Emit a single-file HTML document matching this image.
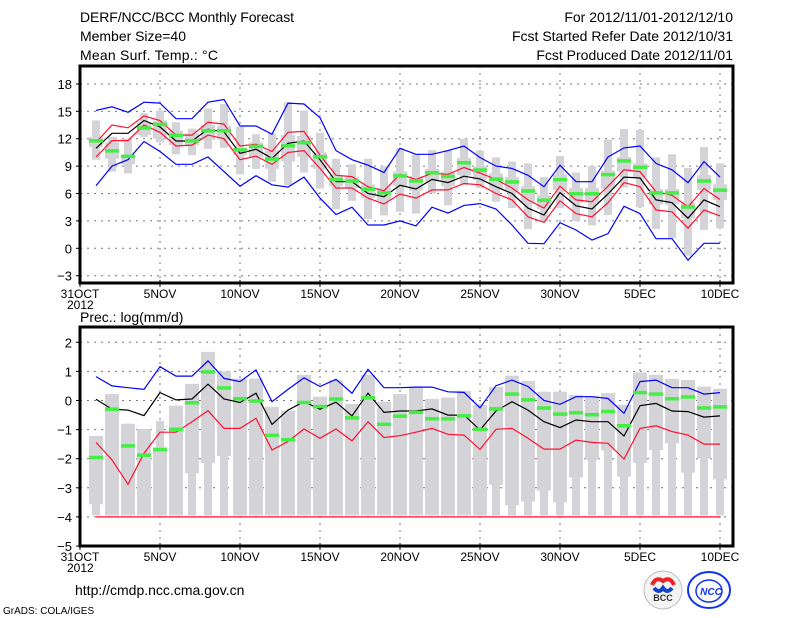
<!DOCTYPE html>
<html><head><meta charset="utf-8">
<style>
html,body{margin:0;padding:0;background:#fff;}
svg{display:block;font-family:"Liberation Sans",sans-serif;}
</style></head>
<body>
<svg id="chart" width="800" height="618" viewBox="0 0 800 618">
<g id="hdr" font-size="14" fill="#000">
<text x="80" y="22" textLength="214">DERF/NCC/BCC Monthly Forecast</text>
<text x="80" y="41" textLength="106">Member Size=40</text>
<text x="80" y="60" textLength="138">Mean Surf. Temp.: °C</text>
<text x="733" y="22" text-anchor="end">For 2012/11/01-2012/12/10</text>
<text x="733" y="41" text-anchor="end">Fcst Started Refer Date 2012/10/31</text>
<text x="733" y="60" text-anchor="end">Fcst Produced Date 2012/11/01</text>
<text x="80" y="322">Prec.: log(mm/d)</text>
<text x="75" y="595">http://cmdp.ncc.cma.gov.cn</text>
<text x="3" y="614" font-size="10">GrADS: COLA/IGES</text>
</g>
<g>
<circle cx="663" cy="590" r="19" fill="#f4f4f4" stroke="#bbb"/>
<path d="M652 585 q4 -9 11 -4 q7 -5 11 4" stroke="#e22" stroke-width="4" fill="none"/>
<path d="M654 588 q5 6 9 0 q4 6 9 0" stroke="#1144cc" stroke-width="4" fill="none"/>
<text x="663" y="601" font-size="9" font-weight="bold" text-anchor="middle" fill="#333">BCC</text>
</g>
<g>
<ellipse cx="709" cy="590" rx="21" ry="18" fill="#fff" stroke="#1133ee" stroke-width="2"/>
<ellipse cx="709" cy="591" rx="13" ry="11" fill="none" stroke="#1133ee" stroke-width="1.5"/>
<text x="711" y="595" font-size="10" font-weight="bold" font-style="italic" text-anchor="middle" fill="#1133ee">NCC</text>
</g>
<g id="p1"></g>
<g id="p2"></g>
</svg>
<script>
// ---- Temperature panel data (days 1..40 = Nov1..Dec10) ----
const tMax=[14.0,12.2,12.0,14.8,15.1,13.8,13.1,15.3,15.8,13.3,12.5,12.6,16.0,15.1,12.65,9.8,9.2,9.8,9.0,11.0,10.3,10.75,10.75,12.0,10.7,9.95,9.5,9.3,7.8,10.1,8.3,9.0,11.9,13.05,12.95,9.95,10.3,8.8,11.1,9.3];
const tQ3=[12.2,11.6,10.2,13.8,14.0,12.9,12.6,13.5,13.4,11.0,11.6,10.7,12.4,12.3,10.5,8.0,7.8,7.0,6.6,8.4,7.9,8.7,8.4,9.9,9.0,8.2,7.8,6.8,5.8,8.1,6.6,6.6,8.5,10.0,9.3,6.5,6.5,5.0,8.0,7.0];
const tQ1=[11.1,9.8,9.2,12.4,12.0,11.3,11.3,12.0,11.9,10.2,10.0,8.7,9.5,10.0,8.7,6.8,6.6,5.5,5.2,6.8,6.3,7.3,6.8,8.0,7.5,6.5,6.2,5.0,4.3,6.4,5.0,5.0,6.5,8.4,7.8,4.8,4.8,3.3,6.4,5.3];
const tMin=[9.7,8.4,8.2,12.2,11.6,10.3,10.2,10.9,11.0,8.1,8.7,7.3,6.9,8.3,6.55,4.3,5.2,3.2,3.6,4.0,3.8,6.0,4.7,6.9,6.6,5.1,4.4,2.1,2.9,4.4,3.0,2.5,3.65,6.65,4.5,2.1,1.1,-0.8,2.0,2.2];
const tGreen=[11.8,10.7,10.1,13.2,13.6,12.4,11.8,12.9,12.9,10.8,11.2,9.8,11.25,11.6,10.05,7.55,7.4,6.5,6.1,7.95,7.4,8.3,7.9,9.4,8.6,7.6,7.3,6.3,5.3,7.55,6.0,6.0,8.1,9.6,8.9,6.1,6.1,4.55,7.4,6.4];
const tMean=[10.95,12.6,12.6,14.0,13.3,11.75,11.75,13.05,12.75,10.4,10.85,9.85,11.5,11.75,9.7,7.3,7.3,6.0,5.65,6.9,6.5,7.55,7.2,7.9,7.6,6.75,6.0,4.4,3.65,6.1,4.65,4.3,5.95,7.8,7.7,5.3,5.0,3.3,5.3,4.55];
const tRedHi=[11.6,13.5,13.2,14.5,14.0,12.4,12.4,13.8,13.6,11.2,11.4,10.6,12.7,12.8,10.2,8.0,7.85,6.75,6.3,8.1,7.55,8.2,8.1,8.85,8.25,7.55,6.6,5.3,4.4,6.8,5.3,5.1,6.8,8.6,8.4,6.2,5.8,4.55,6.55,5.35];
const tRedLo=[10.0,11.8,11.8,13.5,12.7,11.2,11.3,12.4,12.0,9.7,10.1,9.2,10.5,10.7,8.75,6.6,6.6,5.5,4.85,5.95,5.5,6.4,6.4,7.1,6.95,6.0,5.3,3.45,2.85,5.2,3.8,3.45,5.0,7.2,6.75,4.2,4.0,2.2,4.2,3.55];
const tBlueHi=[15.1,15.5,14.9,16.0,15.9,14.2,14.2,16.0,16.3,13.4,13.4,12.5,15.9,15.8,14.3,10.7,9.7,9.1,8.3,10.95,10.3,10.3,10.7,11.2,9.95,9.0,8.75,8.0,6.75,9.1,7.3,7.3,10.0,11.0,11.2,9.3,8.6,7.2,9.5,7.8];
const tBlueLo=[6.85,9.0,9.7,11.7,10.6,9.2,9.2,10.0,8.4,6.8,7.95,6.95,6.7,7.8,5.5,3.7,4.5,2.55,2.55,3.0,2.45,4.5,3.85,4.7,4.9,4.3,2.55,0.55,0.5,2.8,2.0,0.9,1.6,4.6,3.8,1.05,1.05,-1.3,0.55,0.55];
const tTicks=[-3,0,3,6,9,12,15,18];
// ---- Precipitation panel data ----
const pMax=[-1.22,0.22,-0.8,-0.98,-0.7,-0.18,0.57,1.67,1.0,0.75,0.75,-0.22,-0.35,0.88,0.13,0.7,-0.12,0.88,-0.04,0.22,0.45,0.05,0.1,0.33,-0.15,0.46,0.85,0.67,0.3,0.3,0.19,0.15,0.25,-0.15,0.96,0.88,0.74,0.7,0.48,0.4];
const pQ3=[-1.22,0.22,-0.8,-0.98,-1.6,-0.18,0.57,1.67,1.0,0.75,0.75,-0.22,-0.35,0.88,0.13,0.7,-0.12,0.88,-0.04,0.22,0.45,0.05,0.1,0.33,-0.15,0.46,0.85,0.67,0.3,0.3,0.19,0.15,0.25,-0.15,0.96,0.88,0.74,0.7,0.48,0.4];
const pQ1=[-3.57,-3.95,-3.95,-3.95,-3.95,-3.95,-2.5,-2.15,-1.9,-3.95,-3.95,-3.95,-3.95,-3.95,-3.95,-3.95,-3.95,-3.95,-3.95,-3.95,-3.95,-3.95,-3.95,-3.95,-3.95,-2.9,-3.6,-3.47,-3.1,-3.5,-2.65,-2.04,-1.72,-2.62,-2.14,-1.7,-1.47,-2.48,-2.0,-2.71];
const pMin=[-3.95,-3.95,-3.95,-3.95,-3.95,-3.95,-3.95,-3.95,-3.95,-3.95,-3.95,-3.95,-3.95,-3.95,-3.95,-3.95,-3.95,-3.95,-3.95,-3.95,-3.95,-3.95,-3.95,-3.95,-3.95,-3.95,-3.95,-3.95,-3.95,-3.95,-3.95,-3.95,-3.95,-3.95,-3.95,-3.95,-3.95,-3.95,-3.95,-3.95];
const pGreen=[-1.95,-0.29,-1.55,-1.87,-1.68,-0.98,-0.07,0.99,0.44,0.07,-0.01,-1.19,-1.34,-0.06,-0.2,0.06,-0.59,0.1,-0.81,-0.53,-0.4,-0.62,-0.62,-0.52,-0.98,-0.28,0.23,0.03,-0.25,-0.46,-0.41,-0.48,-0.37,-0.86,0.28,0.23,0.07,0.13,-0.25,-0.21];
const pMean=[0.04,-0.3,-0.33,-0.52,0.27,0.02,0.05,0.56,0.05,-0.07,0.25,-0.82,-0.33,-0.04,-0.3,-0.06,-0.53,0.25,-0.41,-0.36,-0.36,-0.29,-0.5,-0.5,-1.01,-0.36,-0.04,-0.33,-0.73,-0.93,-0.67,-0.73,-0.73,-1.22,-0.18,-0.1,-0.36,-0.38,-0.57,-0.53];
const pRedHi=[-1.44,-2.04,-2.88,-1.81,-1.09,-1.09,-0.73,-0.35,-0.96,-0.96,-0.61,-1.7,-1.41,-0.98,-1.3,-0.98,-1.39,-0.73,-1.27,-1.21,-1.09,-0.96,-1.16,-1.19,-1.68,-0.99,-0.96,-1.3,-1.67,-1.67,-1.36,-1.44,-1.47,-2.01,-0.96,-0.87,-1.07,-1.19,-1.5,-1.5];
const pRedLo=[-4,-4,-4,-4,-4,-4,-4,-4,-4,-4,-4,-4,-4,-4,-4,-4,-4,-4,-4,-4,-4,-4,-4,-4,-4,-4,-4,-4,-4,-4,-4,-4,-4,-4,-4,-4,-4,-4,-4,-4];
const pBlueHi=[0.82,0.5,0.44,0.38,1.16,0.84,0.84,1.36,0.76,0.65,1.05,-0.04,0.38,0.78,0.48,0.73,0.25,1.07,0.44,0.44,0.46,0.46,0.3,0.28,-0.25,0.51,0.7,0.48,0.0,-0.13,0.13,0.13,0.07,-0.44,0.65,0.7,0.44,0.44,0.22,0.27];
const pTicks=[-5,-4,-3,-2,-1,0,1,2];
const dateLabels=["31OCT","5NOV","10NOV","15NOV","20NOV","25NOV","30NOV","5DEC","10DEC"];
const dateDays=[0,5,10,15,20,25,30,35,40];

const NS="http://www.w3.org/2000/svg";
const X0=80, X1=733;
function xDay(d){return X0+16*d;}
function mk(parent,tag,attrs){const e=document.createElementNS(NS,tag);for(const k in attrs)e.setAttribute(k,attrs[k]);parent.appendChild(e);return e;}

function panel(g,top,bottom,yOf,ticks,s){
  // grid
  ticks.forEach(t=>{const y=yOf(t);
    if(y>top+1&&y<bottom-1){const l=mk(g,'line',{x1:X0,x2:X1,y1:y,y2:y,stroke:'#777','stroke-dasharray':'2,5','stroke-width':1});
    
    }
    const tk=mk(g,'line',{x1:X0-4,x2:X0,y1:y,y2:y,stroke:'#000'});
    
    
    const tx=mk(g,'text',{x:X0-8,y:y+5,'text-anchor':'end','font-size':13});
    tx.textContent=(t<0?'\u2212'+(-t):String(t));
    
    
  });
  dateDays.forEach((d,i)=>{const x=xDay(d);
    if(d>0){const l=mk(g,'line',{x1:x,x2:x,y1:top,y2:bottom,stroke:'#777','stroke-dasharray':'2,5'});
    
    }
    const tk=mk(g,'line',{x1:x,x2:x,y1:bottom-3,y2:bottom+4,stroke:'#000'});
    
    
    const tx=mk(g,'text',{x:x,y:bottom+15,'text-anchor':'middle','font-size':12});
    tx.textContent=dateLabels[i];
    
    
  });
  const yr=mk(g,'text',{x:67,y:bottom+26,'font-size':12});
  yr.textContent='2012';
  
  
  // boxes
  s.max.forEach((v,i)=>{const x=xDay(i+1);
    const y1=yOf(v),y2=yOf(s.min[i]);
    const r=mk(g,'rect',{x:x-4,y:y1,width:8,height:Math.max(0,y2-y1),fill:'#d4d4d8'});
    
    
    const a=yOf(s.q3[i]),b=yOf(s.q1[i]);
    const w=mk(g,'rect',{x:x-7,y:a,width:14,height:Math.max(0,b-a),fill:'#d4d4d8'});
    
    
  });
  function line(arr,col,name){const pts=arr.map((v,i)=>xDay(i+1)+','+yOf(v).toFixed(1)).join(' ');
    const p=mk(g,'polyline',{points:pts,fill:'none',stroke:col,'stroke-width':1.2});
    
    }
  line(s.blueHi,'#0000ff','blue-upper-line');
  if(s.blueLo)line(s.blueLo,'#0000ff','blue-lower-line');
  line(s.redHi,'#ff1030','red-upper-line');
  line(s.redLo,'#ff1030','red-lower-line');
  line(s.mean,'#000','ensemble-mean-line');
  s.green.forEach((v,i)=>{const x=xDay(i+1);
    const r=mk(g,'rect',{x:x-7,y:yOf(v)-1.5,width:14,height:3.5,fill:'#44ee44'});
    
    });
  const fr=mk(g,'rect',{x:X0,y:top,width:X1-X0,height:bottom-top,fill:'none',stroke:'#000','stroke-width':3});
  
  
}
panel(document.getElementById('p1'),66,283,v=>248.3-9.13*v,tTicks,
 {max:tMax,q3:tQ3,q1:tQ1,min:tMin,green:tGreen,mean:tMean,redHi:tRedHi,redLo:tRedLo,blueHi:tBlueHi,blueLo:tBlueLo});
panel(document.getElementById('p2'),327,546,v=>400.5-29.1*v,pTicks,
 {max:pMax,q3:pQ3,q1:pQ1,min:pMin,green:pGreen,mean:pMean,redHi:pRedHi,redLo:pRedLo,blueHi:pBlueHi});
</script>
</body></html>
